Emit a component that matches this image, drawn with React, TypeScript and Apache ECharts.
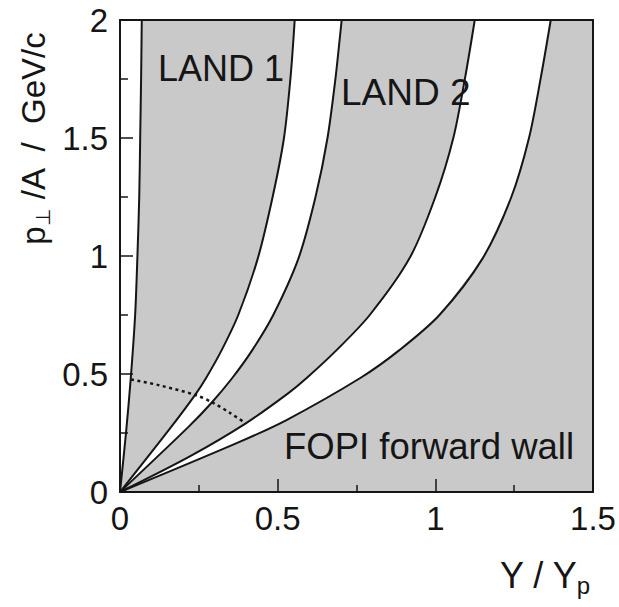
import React, { useEffect, useRef } from "react";
import * as echarts from "echarts";

// Acceptance boundaries in the (Y/Yp, p⊥/A) plane, as [Y/Yp, p⊥/A] points.
const yAxisEdge: number[][] = [
  [0, 0],
  [0, 2],
];
const land1Left: number[][] = [
  [0, 0], [0.019, 0.25], [0.034, 0.48], [0.048, 0.75], [0.055, 0.99],
  [0.061, 1.25], [0.064, 1.5], [0.067, 1.76], [0.069, 2.0],
];
const land1Right: number[][] = [
  [0, 0], [0.163, 0.277], [0.24, 0.415], [0.273, 0.483], [0.322, 0.6],
  [0.375, 0.75], [0.437, 0.99], [0.484, 1.25], [0.52, 1.5], [0.541, 1.76], [0.554, 2.0],
];
const land2Left: number[][] = [
  [0, 0], [0.218, 0.277], [0.289, 0.376], [0.356, 0.483], [0.419, 0.6],
  [0.486, 0.75], [0.566, 0.99], [0.62, 1.25], [0.658, 1.5], [0.684, 1.76], [0.703, 2.0],
];
const land2Right: number[][] = [
  [0, 0], [0.22, 0.15], [0.399, 0.291], [0.533, 0.418], [0.592, 0.483], [0.686, 0.6],
  [0.792, 0.75], [0.918, 0.99], [1.0, 1.25], [1.057, 1.5], [1.095, 1.76], [1.125, 2.0],
];
const wallInner: number[][] = [
  [0, 0], [0.368, 0.206], [0.528, 0.305], [0.762, 0.483], [0.885, 0.6],
  [1.013, 0.75], [1.15, 0.99], [1.241, 1.25], [1.297, 1.5], [1.335, 1.76], [1.366, 2.0],
];
// dotted arc crossing the LAND acceptance near the origin
const thresholdArc: number[][] = [
  [0.035, 0.477], [0.122, 0.453], [0.239, 0.411], [0.298, 0.376], [0.351, 0.333], [0.399, 0.291],
];

// uncovered gaps: each one lies between a lower and an upper boundary
const gapNames = ["below LAND 1", "LAND 1 – LAND 2", "LAND 2 – forward wall"];
const gapEdges: number[][][][] = [
  [yAxisEdge, land1Left],
  [land1Right, land2Left],
  [land2Right, wallInner],
];

const boundaryCurves: number[][][] = [land1Left, land1Right, land2Left, land2Right, wallInner];

export default function App() {
  const ref = useRef<HTMLDivElement>(null);

  useEffect(() => {
    const chart = echarts.init(ref.current!, null, { renderer: "svg" });
    const font = '"Liberation Sans", Arial, Helvetica, sans-serif';
    const ink = "#151515";
    const frame = { show: true, onZero: false, lineStyle: { color: ink, width: 2 } };

    const option: any = {
      animation: false,
      backgroundColor: "#ffffff",
      grid: {
        left: 120,
        right: 26,
        top: 20,
        bottom: 115,
        show: true,
        backgroundColor: "#c9c9c9",
        borderWidth: 0,
      },
      xAxis: [
        {
          type: "value",
          min: 0,
          max: 1.5,
          interval: 0.5,
          position: "bottom",
          z: 10,
          axisLine: frame,
          axisTick: { show: true, inside: true, length: 13, lineStyle: { color: ink, width: 1.5 } },
          minorTick: { show: true, splitNumber: 2, length: 7, lineStyle: { color: ink, width: 1.5 } },
          splitLine: { show: false },
          minorSplitLine: { show: false },
          axisLabel: { fontSize: 33, color: ink, fontFamily: font, margin: 10 },
        },
        {
          type: "value",
          min: 0,
          max: 1.5,
          position: "top",
          z: 10,
          axisLine: frame,
          axisTick: { show: false },
          axisLabel: { show: false },
          splitLine: { show: false },
        },
      ],
      yAxis: [
        {
          type: "value",
          min: 0,
          max: 2,
          interval: 0.5,
          position: "left",
          z: 10,
          axisLine: frame,
          axisTick: { show: true, inside: true, length: 13, lineStyle: { color: ink, width: 1.5 } },
          minorTick: { show: true, splitNumber: 2, length: 8, lineStyle: { color: ink, width: 1.5 } },
          splitLine: { show: false },
          minorSplitLine: { show: false },
          axisLabel: { fontSize: 33, color: ink, fontFamily: font, margin: 12 },
        },
        {
          type: "value",
          min: 0,
          max: 2,
          position: "right",
          z: 10,
          axisLine: frame,
          axisTick: { show: false },
          axisLabel: { show: false },
          splitLine: { show: false },
        },
      ],
      series: [
        {
          type: "custom",
          name: "gaps",
          coordinateSystem: "cartesian2d",
          silent: true,
          z: 1,
          data: gapNames.map((name) => ({ name, value: [0, 0] })),
          renderItem: (params: any, api: any) => {
            const [lower, upper] = gapEdges[params.dataIndex];
            const pts = [
              ...lower.map((p) => api.coord(p)),
              ...upper.slice().reverse().map((p) => api.coord(p)),
            ];
            return {
              type: "polygon",
              shape: { points: pts },
              style: { fill: "#ffffff", stroke: "none" },
            };
          },
        },
        ...boundaryCurves.map((pts, i) => ({
          type: "line",
          name: "edge" + i,
          data: pts,
          smooth: 0.3,
          symbol: "none",
          silent: true,
          z: 3,
          lineStyle: { color: ink, width: 2 },
        })),
        {
          type: "line",
          name: "arc",
          data: thresholdArc,
          smooth: 0.3,
          symbol: "none",
          silent: true,
          z: 3,
          lineStyle: { color: ink, width: 2.5, type: [3, 3.5] },
        },
      ],
      graphic: [
        {
          type: "text",
          x: 158,
          y: 68,
          z: 20,
          style: { text: "LAND 1", fontSize: 36, fontFamily: font, fill: ink, align: "left", verticalAlign: "middle" },
        },
        {
          type: "text",
          x: 341,
          y: 92,
          z: 20,
          style: { text: "LAND 2", fontSize: 37, fontFamily: font, fill: ink, align: "left", verticalAlign: "middle" },
        },
        {
          type: "text",
          x: 284,
          y: 446,
          z: 20,
          style: {
            text: "FOPI forward wall",
            fontSize: 36.5,
            fontFamily: font,
            fill: ink,
            align: "left",
            verticalAlign: "middle",
          },
        },
        {
          type: "text",
          x: 33,
          y: 138,
          rotation: Math.PI / 2,
          z: 20,
          style: {
            text: "{p|p}{s|⊥}{t| /A  /  GeV/c}",
            align: "center",
            verticalAlign: "middle",
            fill: ink,
            rich: {
              p: { fontSize: 33, fontFamily: font, fill: ink, lineHeight: 40 },
              s: { fontSize: 20, fontFamily: font, fill: ink, lineHeight: 40, verticalAlign: "bottom" },
              t: { fontSize: 33, fontFamily: font, fill: ink, lineHeight: 40 },
            },
          },
        },
        {
          type: "text",
          x: 590,
          y: 575,
          z: 20,
          style: {
            text: "{y|Y / Y}{p|p}",
            align: "right",
            verticalAlign: "middle",
            fill: ink,
            rich: {
              y: { fontSize: 36, fontFamily: font, fill: ink, lineHeight: 44 },
              p: { fontSize: 24, fontFamily: font, fill: ink, lineHeight: 44, verticalAlign: "bottom" },
            },
          },
        },
      ],
    };

    chart.setOption(option);
    return () => chart.dispose();
  }, []);

  return (
    <div
      ref={ref}
      style={{ position: "fixed", left: 0, top: 0, width: 619, height: 607 }}
    />
  );
}
